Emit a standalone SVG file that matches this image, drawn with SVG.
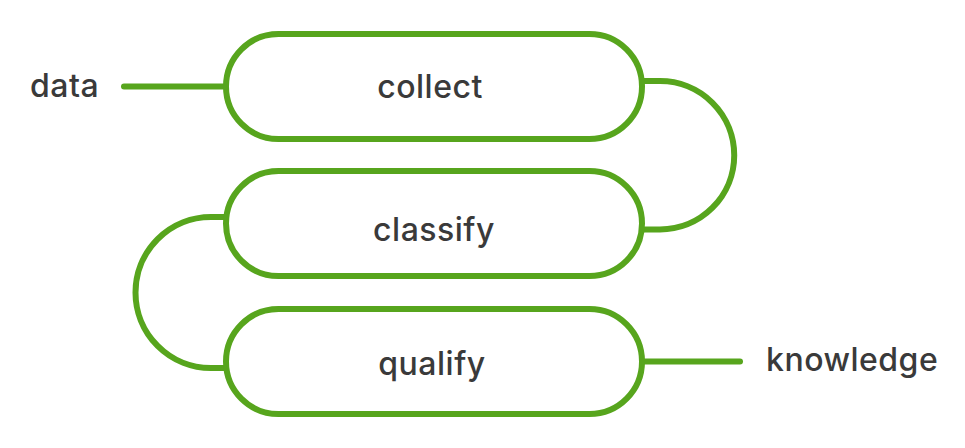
<svg xmlns="http://www.w3.org/2000/svg" width="965" height="448" viewBox="0 0 965 448">
<style>
.pill{fill:#fff;stroke:#57a51d;stroke-width:6}
.conn{fill:none;stroke:#57a51d;stroke-width:6;stroke-linecap:round}
.lbl{font-family:Inter,"Liberation Sans",Arial,sans-serif;font-size:32px;font-weight:500;letter-spacing:0.5px;fill:#3a3a3a}
</style>
<rect width="965" height="448" fill="#fff"/>
<g id="connectors">
<path class="conn" d="M124,86.5 H224"/>
<path class="conn" d="M644,361.5 H740"/>
<path class="conn" style="stroke-linecap:butt" d="M642,81 H660 A74,74 0 0 1 660,229.5 H642"/>
<path class="conn" style="stroke-linecap:butt" d="M226,217 H211 A75.5,75.5 0 0 0 211,368 H226"/>
</g>
<g id="collect">
<rect class="pill" x="226" y="34" width="416" height="105" rx="52.5"/>
<text class="lbl" x="430" y="98" text-anchor="middle">collect</text>
</g>
<g id="classify">
<rect class="pill" x="226" y="171" width="416" height="105" rx="52.5"/>
<text class="lbl" x="434" y="241" text-anchor="middle">classify</text>
</g>
<g id="qualify">
<rect class="pill" x="226" y="309" width="416" height="105" rx="52.5"/>
<text class="lbl" x="432" y="375" text-anchor="middle">qualify</text>
</g>
<g id="data">
<text class="lbl" x="30" y="97">data</text>
</g>
<g id="knowledge">
<text class="lbl" x="766" y="371">knowledge</text>
</g>
</svg>
